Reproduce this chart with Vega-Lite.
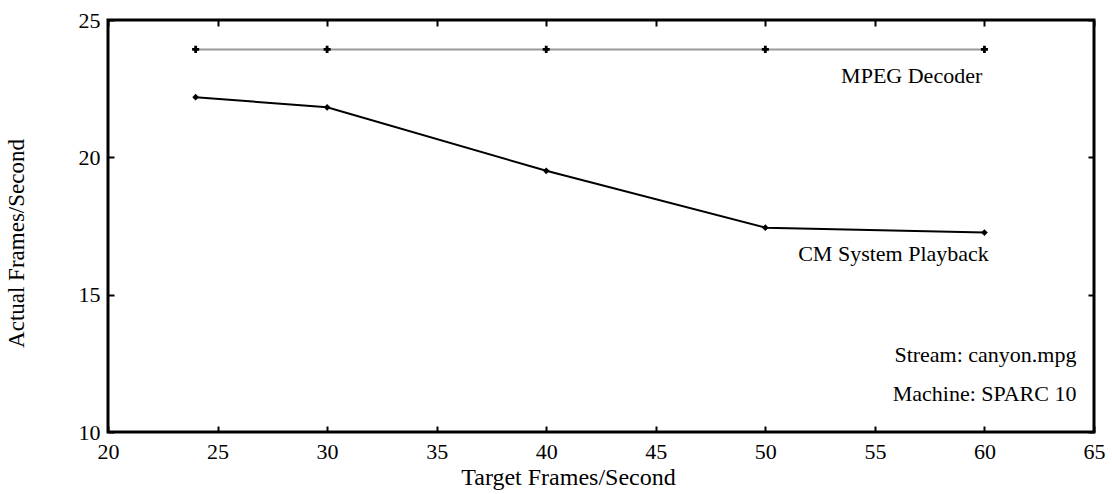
{
  "$schema": "https://vega.github.io/schema/vega-lite/v6.json",
  "autosize": "none",
  "width": 986,
  "height": 412,
  "padding": {"left": 108, "top": 20, "right": 18, "bottom": 62},
  "background": "white",
  "config": {
    "view": {"stroke": "black", "strokeWidth": 3},
    "font": "Liberation Serif",
    "axis": {"grid": false, "domain": false, "tickColor": "black", "tickWidth": 2, "labelColor": "black", "titleColor": "black", "labelFont": "Liberation Serif", "titleFont": "Liberation Serif", "titleFontWeight": "normal", "labelFontSize": 22, "titleFontSize": 23, "labelFlush": false, "labelOverlap": false}
  },
  "datasets": {
    "series": [
      {"target": 24, "actual": 23.93, "series": "MPEG Decoder"},
      {"target": 30, "actual": 23.93, "series": "MPEG Decoder"},
      {"target": 40, "actual": 23.93, "series": "MPEG Decoder"},
      {"target": 50, "actual": 23.93, "series": "MPEG Decoder"},
      {"target": 60, "actual": 23.93, "series": "MPEG Decoder"},
      {"target": 24, "actual": 22.19, "series": "CM System Playback"},
      {"target": 30, "actual": 21.82, "series": "CM System Playback"},
      {"target": 40, "actual": 19.51, "series": "CM System Playback"},
      {"target": 50, "actual": 17.44, "series": "CM System Playback"},
      {"target": 60, "actual": 17.26, "series": "CM System Playback"}
    ],
    "labels": [
      {"label": "MPEG Decoder", "x": 59.9, "y": 22.96},
      {"label": "CM System Playback", "x": 60.2, "y": 16.48},
      {"label": "Stream: canyon.mpg", "x": 64.2, "y": 12.8},
      {"label": "Machine: SPARC 10", "x": 64.2, "y": 11.38}
    ],
    "corner": [{"x": 20, "y": 10}]
  },
  "layer": [
    {
      "data": {"name": "series"},
      "mark": {"type": "line", "strokeWidth": 2},
      "encoding": {
        "x": {"field": "target", "type": "quantitative", "scale": {"domain": [20, 65], "nice": false, "zero": false},
          "axis": {"orient": "bottom", "values": [20, 25, 30, 35, 40, 45, 50, 55, 60, 65], "tickSize": -6, "labelPadding": 15, "title": "Target Frames/Second", "titleX": 460, "titlePadding": 3, "titleFontSize": 24}},
        "y": {"field": "actual", "type": "quantitative", "scale": {"domain": [10, 25], "nice": false, "zero": false},
          "axis": {"orient": "left", "values": [10, 15, 20, 25], "tickSize": -6, "labelPadding": 14, "title": "Actual Frames/Second", "titleY": 223, "titlePadding": 50}},
        "color": {"field": "series", "type": "nominal", "scale": {"domain": ["MPEG Decoder", "CM System Playback"], "range": ["#999999", "#000000"]}, "legend": null},
        "detail": {"field": "series"}
      }
    },
    {
      "data": {"name": "series"},
      "transform": [{"filter": "datum.series == 'MPEG Decoder'"}],
      "mark": {"type": "point", "shape": "cross", "filled": true, "color": "black", "size": 50, "opacity": 1},
      "encoding": {
        "x": {"field": "target", "type": "quantitative", "axis": null},
        "y": {"field": "actual", "type": "quantitative", "axis": null}
      }
    },
    {
      "data": {"name": "series"},
      "transform": [{"filter": "datum.series == 'CM System Playback'"}],
      "mark": {"type": "point", "shape": "diamond", "filled": true, "color": "black", "size": 45, "opacity": 1},
      "encoding": {
        "x": {"field": "target", "type": "quantitative", "axis": null},
        "y": {"field": "actual", "type": "quantitative", "axis": null}
      }
    },
    {
      "data": {"name": "labels"},
      "mark": {"type": "text", "align": "right", "baseline": "middle", "fontSize": 22, "font": "Liberation Serif", "color": "black"},
      "encoding": {
        "x": {"field": "x", "type": "quantitative", "axis": null},
        "y": {"field": "y", "type": "quantitative", "axis": null},
        "text": {"field": "label"}
      }
    },
    {
      "data": {"name": "corner"},
      "mark": {"type": "point", "opacity": 0},
      "encoding": {
        "x": {"field": "x", "type": "quantitative", "axis": {"orient": "top", "values": [20, 25, 30, 35, 40, 45, 50, 55, 60, 65], "tickSize": -6, "labels": false, "title": null}},
        "y": {"field": "y", "type": "quantitative", "axis": {"orient": "right", "values": [10, 15, 20, 25], "tickSize": -6, "labels": false, "title": null}}
      }
    }
  ],
  "resolve": {"axis": {"x": "independent", "y": "independent"}}
}
